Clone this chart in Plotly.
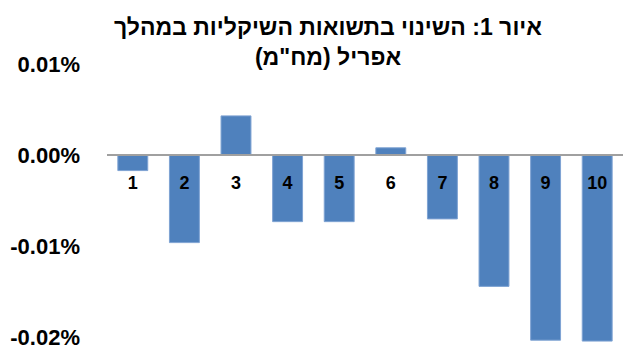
import plotly.graph_objects as go

categories = ["1", "2", "3", "4", "5", "6", "7", "8", "9", "10"]
values = [-0.0017, -0.0096, 0.0043, -0.0073, -0.0073, 0.0008, -0.0070, -0.0144, -0.0203, -0.0204]
y_ticks = [0.01, 0.0, -0.01, -0.02]
y_tick_labels = ["0.01%", "0.00%", "-0.01%", "-0.02%"]
title_lines = ["איור 1: השינוי בתשואות השיקליות במהלך", "אפריל (מח\"מ)"]

ymin, ymax = -0.0205, 0.0101
zero_pos = (0 - ymin) / (ymax - ymin)

fig = go.Figure(go.Bar(
    x=categories, y=values,
    marker=dict(color="#4F81BD", line=dict(color="#7FA3D3", width=1)),
    width=0.58,
))

fig.update_layout(
    width=627, height=354,
    margin=dict(l=107, r=4, t=63, b=10),
    paper_bgcolor="white", plot_bgcolor="white",
    showlegend=False,
    title=dict(
        text="<br>".join(l + "\u200f" for l in title_lines),
        x=328 / 627, xref="container", xanchor="center",
        y=1 - 35 / 354, yref="container", yanchor="middle",
        font=dict(family="Liberation Sans, Arial", size=23, color="#000000", weight="bold"),
    ),
    xaxis=dict(
        type="category", anchor="free", position=zero_pos,
        showline=True, linecolor="#A0A0A0", linewidth=2,
        ticks="", showgrid=False, zeroline=False,
        tickfont=dict(family="Liberation Sans, Arial", size=18, color="#000000", weight="bold"),
        ticklabelstandoff=11,
    ),
    yaxis=dict(
        range=[ymin, ymax], tickvals=y_ticks, ticktext=y_tick_labels,
        showgrid=False, zeroline=False, showline=False, ticks="",
        tickfont=dict(family="Liberation Sans, Arial", size=22, color="#000000", weight="bold"),
        ticklabelstandoff=26,
    ),
)

fig.write_html("out.html", post_script="document.body.style.margin='0';",
               config={"displayModeBar": False})
